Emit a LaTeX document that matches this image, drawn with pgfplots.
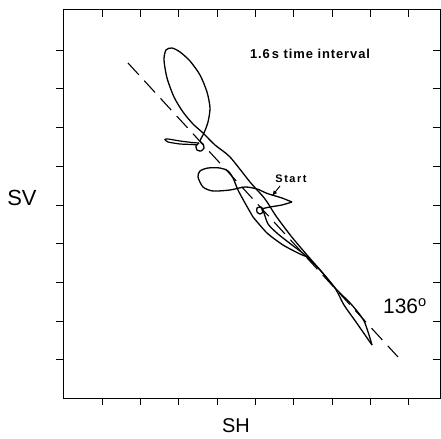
\documentclass[border=0pt]{standalone}
\usepackage{pgfplots}
\pgfplotsset{compat=1.18}
\usepackage{fontspec}
\setmainfont{Liberation Sans}
\begin{document}
\begin{tikzpicture}
\begin{axis}[
 name=main,
 scale only axis, width=377bp, height=388bp,
 xmin=63,xmax=440,ymin=41,ymax=429,
 xtick={102,140,178,217,255,293,332,370,408},
 ytick={80,118,157,196,234,273,312,351,389},
 xticklabels={}, yticklabels={},
 xtick pos=lower, ytick pos=left, tick align=outside,
 major tick length=7bp,
 tick style={black, line width=0.9pt},
 axis line style={line width=1pt},
 clip=false,
]
% dashed 136 degree line
\addplot[black, line width=1.1pt, dash pattern=on 16bp off 8bp] coordinates {(128,376) (398,82)};
% start -> triangle tip
\addplot[black, line width=1.3pt, smooth, tension=0.4] coordinates {(272,244) (282,241) (292,237)};
% tip -> small circle -> down the band to lower tip
\addplot[black, line width=1.3pt, smooth, tension=0.4] coordinates {
 (292,237) (282,234) (270,232) (262,230) (263,227) (260,225) (257,227) (257,231) (261,232) (263,229)
 (268,215) (278,205) (292,194) (305,184) (320,169) (335,151) (344,134) (356,117) (372,94)};
% back up the band, big loop, circle
\addplot[black, line width=1.3pt, smooth, tension=0.45] coordinates {
 (372,94) (364,118) (351,135) (336,150) (321,168) (307,184) (291,203) (276,223) (265,240) (250,257)
 (230,282) (215,294) (203,306) (193,315) (183,327) (174,342) (167,361) (164,379) (166,389) (172,391)
 (180,387) (190,378) (200,364) (207,347) (210,331) (208,317) (204,306) (200,298)
 (203,295) (204,291) (201,288) (197,289) (196,293) (199,296)};
% small leaf
\addplot[black, line width=1.2pt, smooth, tension=0.4] coordinates {
 (199,296) (192,296.5) (180,298) (168,300) (165,299.5) (168,297) (180,295) (192,294.5) (197,294)};
% left loop
\addplot[black, line width=1.3pt, smooth, tension=0.45] coordinates {
 (253,222) (245,236) (238,249) (233,261) (228,268) (220,271) (208,271) (200,268) (198,262)
 (203,252) (213,248) (230,249) (245,252) (257,250) (266,246) (272,244)};
\addplot[black, line width=1.3pt, smooth, tension=0.4] coordinates {
 (253,222) (267,206) (283,194) (300,185) (310,181)};
% annotations
\node[font=\fontsize{13}{15}\selectfont\bfseries\addfontfeatures{LetterSpace=7}] at (axis cs:310,385) {1.6\,s time interval};
\node[font=\fontsize{11}{13}\selectfont\bfseries\addfontfeatures{LetterSpace=14}] at (axis cs:291,260) {Start};
\draw[black, line width=0.9pt, -{latex}] (axis cs:280,253) -- (axis cs:272,243);
\node[font=\fontsize{21}{24}\selectfont] at (axis cs:405,133) {136\textsuperscript{o}};
\node[font=\fontsize{22}{26}\selectfont] at (axis cs:22,241) {SV};
\node[font=\fontsize{20}{22}\selectfont] at (axis cs:236,13) {SH};
\coordinate (BL) at (axis cs:0,0);
\coordinate (TR) at (axis cs:441,439);
\end{axis}
\begin{axis}[
 scale only axis, width=377bp, height=388bp,
 xmin=63,xmax=440,ymin=41,ymax=429,
 xtick={102,140,178,217,255,293,332,370,408},
 ytick={80,118,157,196,234,273,312,351,389},
 xticklabels={}, yticklabels={},
 xtick pos=upper, ytick pos=right, tick align=inside,
 major tick length=7bp,
 tick style={black, line width=0.9pt},
 axis line style={line width=1pt},
]
\end{axis}
\pgfresetboundingbox
\path (BL) rectangle (TR);
\end{tikzpicture}
\end{document}
